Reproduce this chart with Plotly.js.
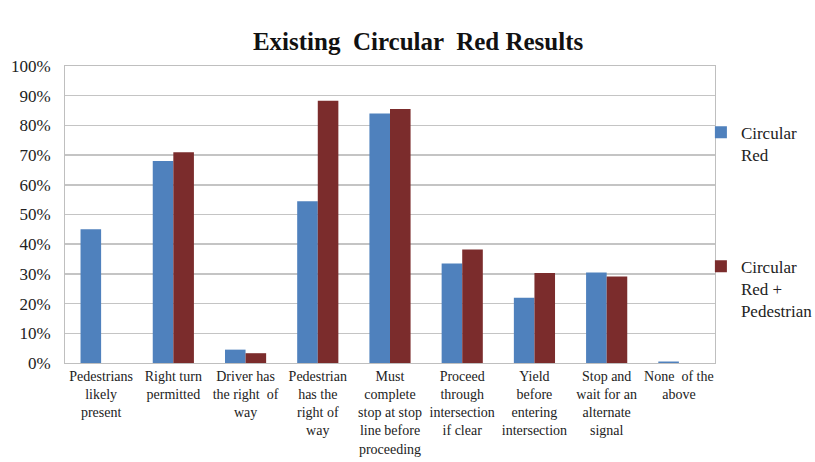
<!DOCTYPE html>
<html>
<head>
<meta charset="utf-8">
<script src="https://cdn.plot.ly/plotly-3.0.1.min.js"></script>
<style>html,body{margin:0;padding:0;background:#fff;}</style>
</head>
<body>
<div id="chart" style="width:815px;height:462px;"></div>
<script>
var categories = [
  "Pedestrians<br>likely<br>present",
  "Right turn<br>permitted",
  "Driver has<br>the right  of<br>way",
  "Pedestrian<br>has the<br>right of<br>way",
  "Must<br>complete<br>stop at stop<br>line before<br>proceeding",
  "Proceed<br>through<br>intersection<br>if clear",
  "Yield<br>before<br>entering<br>intersection",
  "Stop and<br>wait for an<br>alternate<br>signal",
  "None  of the<br>above"
];
var circularRed = [45, 68, 4.5, 54.5, 84, 33.5, 22, 30.5, 0.5];
var circularRedPed = [0, 71, 3.3, 88.3, 85.5, 38.2, 30.3, 29.1, 0];
var seriesNames = ["Circular<br>Red", "Circular<br>Red +<br>Pedestrian"];
var yTicks = [0,10,20,30,40,50,60,70,80,90,100];
var yTickText = ["0%","10%","20%","30%","40%","50%","60%","70%","80%","90%","100%"];

var serif = "Liberation Serif, serif";
var traces = [
  {type:"bar", x:categories, y:circularRed, name:seriesNames[0], legendgroup:"a",
   marker:{color:"#4f81bd"}},
  {type:"bar", x:categories, y:circularRedPed, name:seriesNames[1], legendgroup:"b",
   marker:{color:"#7b2c2c"}}
];
var layout = {
  width:815, height:462,
  font:{family:serif, color:"#222", size:15},
  margin:{l:65, r:100, t:66, b:99, autoexpand:false},
  paper_bgcolor:"#fff", plot_bgcolor:"#fff",
  title:{text:"<b>Existing  Circular  Red Results</b>", x:0.513, xanchor:"center", y:0.91, yanchor:"middle",
         font:{family:serif, size:25, color:"#111"}},
  barmode:"group", bargap:0.43, bargroupgap:0,
  showlegend:true,
  legend:{xref:"container", yref:"container", x:0.86, xanchor:"left", y:0.752, yanchor:"top",
          traceorder:"grouped", tracegroupgap:87, valign:"top",
          font:{family:serif, size:17, color:"#222"}, bgcolor:"rgba(0,0,0,0)"},
  xaxis:{type:"category", tickfont:{family:serif, size:14, color:"#222"}, showline:true, linecolor:"#bfbfbf",
         mirror:true, ticks:"", showgrid:false, tickangle:0, automargin:false},
  yaxis:{range:[0,100], tickmode:"array", tickvals:yTicks, ticktext:yTickText, tickfont:{family:serif, size:17, color:"#222"},
         showgrid:true, gridcolor:"#c4c4c4", gridwidth:1.5, showline:true, linecolor:"#bfbfbf", mirror:true,
         zeroline:false, ticks:"", automargin:false, ticklabelstandoff:10}
};
Plotly.newPlot("chart", traces, layout, {displayModeBar:false, staticPlot:true});
</script>
</body>
</html>
